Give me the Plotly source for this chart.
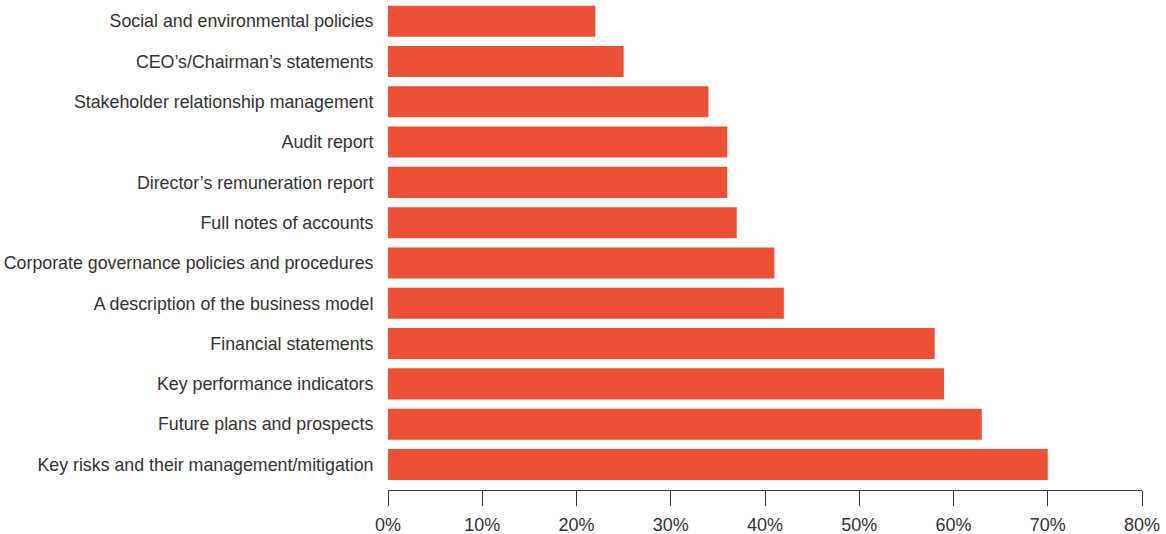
import plotly.graph_objects as go

categories = [
    "Social and environmental policies",
    "CEO’s/Chairman’s statements",
    "Stakeholder relationship management",
    "Audit report",
    "Director’s remuneration report",
    "Full notes of accounts",
    "Corporate governance policies and procedures",
    "A description of the business model",
    "Financial statements",
    "Key performance indicators",
    "Future plans and prospects",
    "Key risks and their management/mitigation",
]
values = [22, 25, 34, 36, 36, 37, 41, 42, 58, 59, 63, 70]
x_ticks = [0, 10, 20, 30, 40, 50, 60, 70, 80]

# plot bottom-to-top
cats_plot = categories[::-1]
vals_plot = values[::-1]

fig = go.Figure(go.Bar(
    x=vals_plot,
    y=cats_plot,
    orientation="h",
    marker=dict(color="#EE5036", line=dict(width=0)),
    hoverinfo="x+y",
))

font_family = "Liberation Sans, Arial, sans-serif"

fig.update_layout(
    width=1166,
    height=534,
    margin=dict(l=388, r=24, t=1, b=44),
    paper_bgcolor="white",
    plot_bgcolor="white",
    bargap=0.23,
    showlegend=False,
    font=dict(family=font_family, size=17.8, color="#333333"),
    xaxis=dict(
        range=[0, 80],
        tickvals=x_ticks,
        ticktext=[f"{v}%" for v in x_ticks],
        showgrid=False,
        zeroline=False,
        showline=True,
        linecolor="#333333",
        linewidth=1,
        ticks="outside",
        ticklen=15,
        tickwidth=1,
        tickcolor="#333333",
        tickfont=dict(size=18, color="#333333"),
        ticklabelstandoff=3,
        automargin=False,
        fixedrange=True,
    ),
    yaxis=dict(
        type="category",
        range=[-0.633, 11.5],
        showgrid=False,
        zeroline=False,
        showline=False,
        ticks="outside",
        ticklen=10,
        tickcolor="rgba(0,0,0,0)",
        tickfont=dict(size=17.8, color="#333333"),
        automargin=False,
        fixedrange=True,
    ),
)

fig.write_html(
    "out.html",
    config={"displayModeBar": False},
    post_script="document.body.style.margin='0';document.body.style.overflow='hidden';",
)
